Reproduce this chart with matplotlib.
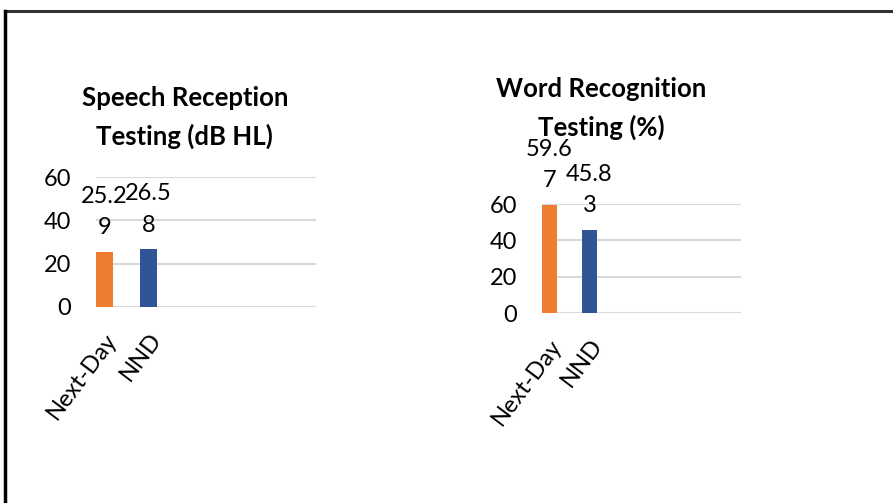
import matplotlib.pyplot as plt
from matplotlib.lines import Line2D

categories = ["Next-Day", "NND"]
speech_values = [25.29, 26.58]
word_values = [59.67, 45.83]
speech_ticks = [0, 20, 40, 60]
word_ticks = [0, 20, 40, 60]
colors = ["#ED7D31", "#2F5597"]

plt.rcParams["font.family"] = ["Lato", "DejaVu Sans"]


def wrap_label(v):
    s = f"{v:.2f}"
    return s[:4] + "\n" + s[4:]


def draw(ax, values, ticks, width):
    x = range(len(values))
    ax.bar(x, values, width=width, color=colors, zorder=3)
    for xi, v in zip(x, values):
        ax.annotate(wrap_label(v), (xi, v), xytext=(0, 10), textcoords="offset points",
                    ha="center", va="bottom", fontsize=17, linespacing=1.6)
    ax.set_ylim(0, 60)
    ax.set_yticks(ticks)
    ax.set_xlim(-width / 2, 4.8)
    ax.set_xticks(list(x))
    ax.set_xticklabels(categories, rotation=53, ha="right", rotation_mode="anchor", fontsize=15.5)
    ax.tick_params(axis="both", length=0, labelsize=17)
    ax.tick_params(axis="y", pad=18)
    ax.tick_params(axis="x", pad=16)
    ax.grid(axis="y", color="#d9d9d9", linewidth=1.5, zorder=0)
    for s in ax.spines.values():
        s.set_visible(False)


fig = plt.figure(figsize=(8.93, 5.03), dpi=100)

ax1 = fig.add_axes([0.1075, 0.3897, 0.2464, 0.2584])
draw(ax1, speech_values, speech_ticks, 0.386)

ax2 = fig.add_axes([0.6070, 0.3777, 0.2228, 0.2167])
draw(ax2, word_values, word_ticks, 0.375)

fig.text(0.207, 0.767, "Speech Reception\nTesting (dB HL)", ha="center", va="center",
         fontsize=18.5, fontweight="bold", linespacing=1.65)
fig.text(0.673, 0.785, "Word Recognition\nTesting (%)", ha="center", va="center",
         fontsize=18.5, fontweight="bold", linespacing=1.65)

# outer frame (top and left edges only)
fig.add_artist(Line2D([0.006, 1.0], [0.978, 0.978], color="#333333", linewidth=2.2))
fig.add_artist(Line2D([0.006, 0.006], [0.0, 0.978], color="black", linewidth=2.5))

fig.savefig("out.png", dpi=100)
